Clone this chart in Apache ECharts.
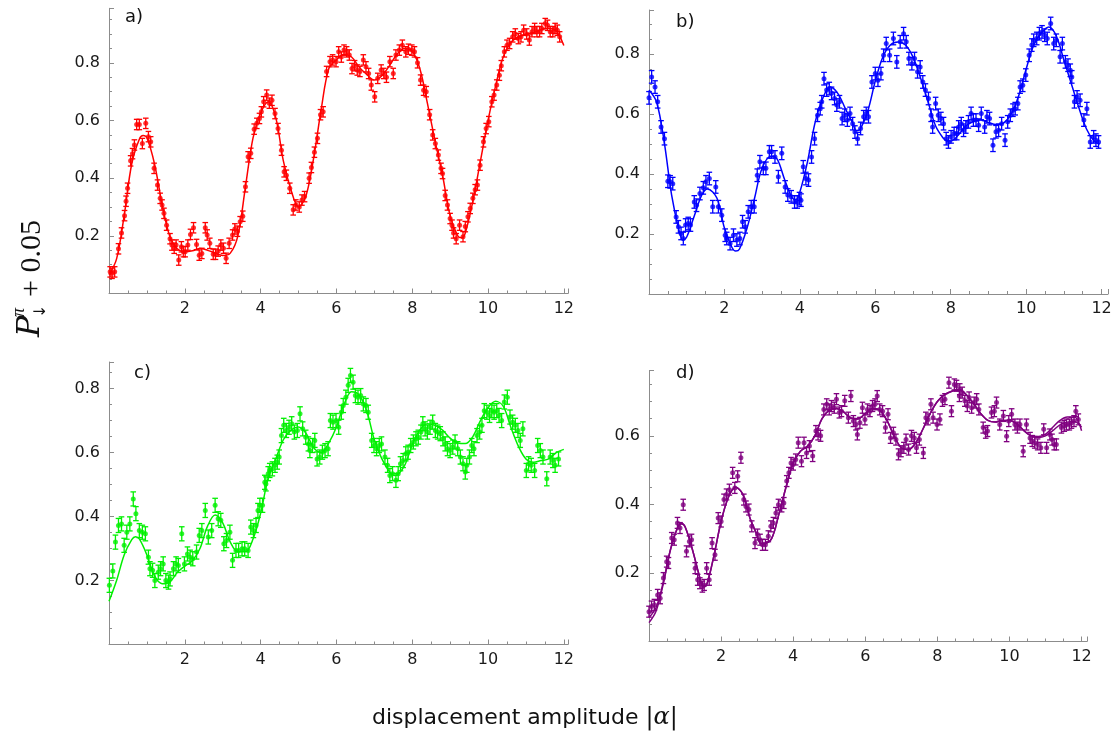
<!DOCTYPE html>
<html>
<head>
<meta charset="utf-8">
<script src="https://cdn.jsdelivr.net/npm/echarts@6/dist/echarts.min.js"></script>
<style>
html,body{margin:0;padding:0;background:#fff;}
#chart{width:1115px;height:734px;}
</style>
</head>
<body>
<div id="chart"></div>
<script>
// ---------------- data ----------------
const X_TICKS = [2, 4, 6, 8, 10, 12];
const Y_TICKS = [0.2, 0.4, 0.6, 0.8];
const PANEL_LABELS = ['a)', 'b)', 'c)', 'd)'];

const ERR_A = 0.018, ERR_B = 0.021, ERR_C = 0.022, ERR_D = 0.016;

const dataA = [[0.03,0.075],[0.08,0.07],[0.15,0.075],[0.25,0.155],[0.33,0.21],[0.41,0.27],[0.45,0.32],[0.49,0.365],[0.57,0.46],[0.62,0.485],[0.67,0.515],[0.73,0.586],[0.80,0.586],[0.88,0.52],[0.97,0.59],[1.04,0.544],[1.10,0.526],[1.19,0.434],[1.28,0.376],[1.35,0.33],[1.40,0.307],[1.45,0.278],[1.52,0.237],[1.61,0.19],[1.66,0.168],[1.72,0.157],[1.77,0.168],[1.84,0.116],[1.91,0.162],[1.96,0.145],[2.01,0.145],[2.08,0.168],[2.15,0.205],[2.23,0.228],[2.31,0.17],[2.38,0.133],[2.45,0.139],[2.54,0.228],[2.59,0.203],[2.66,0.174],[2.75,0.136],[2.81,0.136],[2.88,0.147],[2.95,0.168],[3.02,0.157],[3.09,0.122],[3.17,0.174],[3.26,0.203],[3.32,0.224],[3.39,0.216],[3.46,0.249],[3.53,0.268],[3.60,0.37],[3.67,0.474],[3.74,0.486],[3.83,0.57],[3.90,0.59],[3.97,0.607],[4.02,0.63],[4.08,0.665],[4.16,0.688],[4.23,0.66],[4.30,0.67],[4.38,0.624],[4.46,0.572],[4.55,0.497],[4.62,0.422],[4.68,0.41],[4.77,0.365],[4.86,0.29],[4.93,0.307],[5.02,0.30],[5.09,0.324],[5.16,0.336],[5.28,0.40],[5.34,0.437],[5.42,0.49],[5.50,0.538],[5.58,0.62],[5.65,0.63],[5.74,0.77],[5.83,0.804],[5.90,0.81],[5.99,0.804],[6.06,0.838],[6.13,0.82],[6.20,0.844],[6.27,0.838],[6.34,0.827],[6.41,0.78],[6.48,0.79],[6.55,0.775],[6.62,0.77],[6.71,0.81],[6.78,0.786],[6.85,0.763],[6.92,0.723],[7.01,0.682],[7.09,0.746],[7.18,0.775],[7.25,0.763],[7.32,0.75],[7.41,0.804],[7.50,0.763],[7.57,0.827],[7.66,0.844],[7.74,0.861],[7.83,0.838],[7.90,0.847],[7.99,0.844],[8.06,0.838],[8.14,0.80],[8.22,0.74],[8.30,0.705],[8.37,0.70],[8.46,0.62],[8.54,0.55],[8.61,0.52],[8.69,0.48],[8.76,0.434],[8.80,0.416],[8.87,0.34],[8.93,0.307],[9.0,0.26],[9.05,0.237],[9.09,0.21],[9.16,0.19],[9.25,0.237],[9.34,0.197],[9.40,0.232],[9.47,0.266],[9.53,0.295],[9.60,0.33],[9.66,0.36],[9.72,0.376],[9.79,0.445],[9.88,0.526],[9.95,0.572],[10.02,0.596],[10.10,0.665],[10.16,0.688],[10.23,0.723],[10.30,0.757],[10.35,0.79],[10.43,0.838],[10.50,0.861],[10.57,0.867],[10.65,0.89],[10.72,0.90],[10.80,0.884],[10.87,0.89],[10.94,0.913],[11.02,0.90],[11.09,0.879],[11.16,0.908],[11.23,0.919],[11.29,0.908],[11.36,0.908],[11.42,0.919],[11.51,0.936],[11.57,0.93],[11.64,0.908],[11.71,0.908],[11.77,0.919],[11.83,0.913],[11.89,0.89]];
const fitA = [[0,0.065],[0.2,0.12],[0.4,0.27],[0.6,0.45],[0.8,0.535],[0.9,0.548],[1.0,0.54],[1.2,0.45],[1.4,0.31],[1.6,0.2],[1.8,0.155],[2.0,0.145],[2.2,0.148],[2.4,0.156],[2.6,0.15],[2.8,0.14],[3.0,0.132],[3.2,0.14],[3.4,0.2],[3.6,0.37],[3.8,0.54],[4.0,0.625],[4.2,0.665],[4.4,0.61],[4.6,0.46],[4.8,0.36],[5.0,0.30],[5.2,0.34],[5.4,0.47],[5.6,0.64],[5.8,0.78],[6.0,0.81],[6.2,0.83],[6.4,0.82],[6.6,0.785],[6.8,0.76],[7.0,0.74],[7.2,0.755],[7.4,0.79],[7.6,0.83],[7.8,0.85],[8.0,0.84],[8.2,0.78],[8.4,0.66],[8.6,0.53],[8.8,0.41],[9.0,0.27],[9.2,0.2],[9.3,0.193],[9.4,0.21],[9.6,0.32],[9.8,0.46],[10.0,0.6],[10.2,0.72],[10.4,0.82],[10.6,0.87],[10.8,0.89],[11.0,0.9],[11.2,0.905],[11.4,0.915],[11.6,0.92],[11.8,0.91],[12.0,0.86]];

const dataB = [[0.0,0.654],[0.07,0.724],[0.16,0.69],[0.23,0.641],[0.32,0.557],[0.41,0.518],[0.50,0.376],[0.56,0.374],[0.63,0.368],[0.72,0.257],[0.78,0.224],[0.85,0.202],[0.91,0.185],[0.97,0.23],[1.04,0.235],[1.10,0.23],[1.20,0.307],[1.26,0.296],[1.35,0.335],[1.44,0.354],[1.51,0.374],[1.60,0.385],[1.69,0.291],[1.77,0.357],[1.84,0.291],[1.93,0.263],[2.02,0.196],[2.06,0.185],[2.15,0.168],[2.24,0.196],[2.33,0.18],[2.41,0.185],[2.48,0.241],[2.55,0.224],[2.63,0.274],[2.71,0.291],[2.79,0.291],[2.87,0.396],[2.94,0.441],[3.03,0.419],[3.10,0.419],[3.19,0.474],[3.25,0.474],[3.34,0.457],[3.43,0.391],[3.52,0.469],[3.61,0.357],[3.68,0.33],[3.77,0.324],[3.86,0.307],[3.93,0.307],[3.99,0.318],[4.03,0.313],[4.09,0.424],[4.16,0.385],[4.23,0.38],[4.31,0.457],[4.39,0.518],[4.47,0.596],[4.54,0.618],[4.58,0.641],[4.64,0.718],[4.71,0.68],[4.78,0.685],[4.84,0.669],[4.92,0.652],[4.98,0.63],[5.05,0.641],[5.12,0.585],[5.19,0.596],[5.26,0.58],[5.33,0.602],[5.40,0.568],[5.46,0.54],[5.53,0.518],[5.61,0.552],[5.69,0.591],[5.76,0.602],[5.82,0.591],[5.91,0.707],[6.0,0.735],[6.07,0.713],[6.15,0.735],[6.22,0.796],[6.29,0.835],[6.38,0.796],[6.48,0.852],[6.57,0.774],[6.66,0.841],[6.75,0.868],[6.82,0.841],[6.89,0.785],[6.97,0.768],[7.04,0.785],[7.12,0.741],[7.19,0.757],[7.26,0.707],[7.33,0.68],[7.41,0.652],[7.48,0.596],[7.52,0.557],[7.60,0.635],[7.67,0.596],[7.74,0.585],[7.81,0.568],[7.88,0.518],[7.94,0.507],[8.01,0.524],[8.09,0.535],[8.16,0.535],[8.21,0.557],[8.28,0.568],[8.34,0.546],[8.40,0.557],[8.47,0.574],[8.54,0.602],[8.60,0.58],[8.67,0.58],[8.74,0.563],[8.81,0.602],[8.90,0.557],[8.96,0.591],[9.03,0.585],[9.12,0.496],[9.20,0.541],[9.27,0.546],[9.35,0.568],[9.44,0.513],[9.51,0.574],[9.58,0.596],[9.65,0.613],[9.71,0.618],[9.78,0.635],[9.84,0.69],[9.91,0.696],[9.99,0.73],[10.08,0.796],[10.15,0.83],[10.20,0.846],[10.28,0.852],[10.35,0.868],[10.42,0.874],[10.49,0.863],[10.56,0.852],[10.65,0.902],[10.73,0.835],[10.80,0.846],[10.90,0.791],[10.96,0.835],[11.04,0.774],[11.11,0.763],[11.17,0.746],[11.21,0.724],[11.28,0.641],[11.35,0.657],[11.43,0.646],[11.53,0.58],[11.61,0.618],[11.70,0.507],[11.79,0.524],[11.85,0.513],[11.92,0.507]];
const fitB = [[0,0.68],[0.2,0.64],[0.4,0.51],[0.6,0.33],[0.8,0.21],[0.9,0.18],[1.0,0.19],[1.2,0.26],[1.4,0.33],[1.55,0.35],[1.8,0.32],[2.0,0.22],[2.2,0.155],[2.3,0.143],[2.4,0.15],[2.6,0.22],[2.8,0.32],[3.0,0.42],[3.25,0.46],[3.4,0.45],[3.6,0.38],[3.8,0.32],[3.9,0.315],[4.0,0.34],[4.2,0.44],[4.4,0.57],[4.6,0.65],[4.8,0.69],[5.0,0.67],[5.2,0.62],[5.4,0.57],[5.5,0.545],[5.6,0.55],[5.8,0.61],[6.0,0.71],[6.2,0.79],[6.4,0.83],[6.6,0.84],[6.8,0.83],[7.0,0.79],[7.2,0.72],[7.4,0.64],[7.6,0.56],[7.8,0.52],[7.9,0.51],[8.0,0.51],[8.2,0.53],[8.4,0.56],[8.6,0.575],[8.8,0.58],[9.0,0.572],[9.2,0.565],[9.4,0.57],[9.6,0.6],[9.8,0.66],[10.0,0.75],[10.2,0.83],[10.4,0.87],[10.6,0.89],[10.8,0.86],[11.0,0.78],[11.2,0.7],[11.4,0.62],[11.6,0.55],[11.8,0.51],[11.95,0.5]];

const dataC = [[0.01,0.185],[0.10,0.23],[0.17,0.32],[0.25,0.372],[0.33,0.377],[0.40,0.31],[0.47,0.351],[0.55,0.377],[0.64,0.455],[0.71,0.409],[0.80,0.356],[0.88,0.351],[0.96,0.346],[1.04,0.273],[1.08,0.237],[1.15,0.232],[1.21,0.2],[1.30,0.226],[1.36,0.237],[1.43,0.252],[1.50,0.2],[1.57,0.195],[1.61,0.205],[1.70,0.237],[1.77,0.252],[1.83,0.247],[1.92,0.346],[1.99,0.252],[2.07,0.283],[2.14,0.273],[2.21,0.268],[2.31,0.289],[2.38,0.341],[2.45,0.356],[2.54,0.419],[2.62,0.336],[2.71,0.356],[2.80,0.435],[2.88,0.393],[2.95,0.388],[3.03,0.315],[3.10,0.325],[3.19,0.351],[3.26,0.263],[3.35,0.294],[3.42,0.294],[3.51,0.299],[3.58,0.299],[3.67,0.294],[3.74,0.367],[3.81,0.356],[3.88,0.372],[3.93,0.419],[3.98,0.435],[4.05,0.435],[4.11,0.507],[4.14,0.502],[4.20,0.534],[4.24,0.544],[4.31,0.549],[4.38,0.56],[4.44,0.57],[4.49,0.586],[4.55,0.653],[4.61,0.685],[4.68,0.669],[4.75,0.679],[4.82,0.69],[4.89,0.664],[4.97,0.669],[5.04,0.721],[5.11,0.674],[5.19,0.648],[5.26,0.627],[5.30,0.606],[5.37,0.622],[5.43,0.638],[5.49,0.58],[5.56,0.586],[5.63,0.601],[5.70,0.606],[5.78,0.612],[5.84,0.7],[5.91,0.695],[5.99,0.7],[6.06,0.679],[6.13,0.726],[6.18,0.747],[6.25,0.773],[6.31,0.81],[6.37,0.841],[6.44,0.82],[6.50,0.778],[6.57,0.773],[6.64,0.778],[6.71,0.752],[6.78,0.747],[6.84,0.726],[6.93,0.638],[6.99,0.622],[7.06,0.612],[7.13,0.622],[7.19,0.627],[7.28,0.586],[7.35,0.56],[7.41,0.528],[7.48,0.534],[7.57,0.513],[7.63,0.534],[7.69,0.565],[7.76,0.575],[7.83,0.596],[7.89,0.601],[7.96,0.622],[8.03,0.633],[8.10,0.643],[8.16,0.648],[8.23,0.664],[8.28,0.69],[8.34,0.674],[8.40,0.664],[8.47,0.679],[8.54,0.695],[8.61,0.669],[8.67,0.664],[8.74,0.659],[8.81,0.643],[8.87,0.627],[8.93,0.612],[9.0,0.606],[9.07,0.617],[9.13,0.633],[9.20,0.612],[9.27,0.586],[9.34,0.565],[9.40,0.539],[9.44,0.56],[9.51,0.586],[9.57,0.622],[9.63,0.612],[9.71,0.653],[9.78,0.664],[9.84,0.685],[9.90,0.731],[9.97,0.726],[10.04,0.716],[10.10,0.731],[10.16,0.726],[10.23,0.731],[10.29,0.716],[10.36,0.7],[10.43,0.758],[10.51,0.773],[10.58,0.711],[10.65,0.695],[10.72,0.685],[10.79,0.669],[10.85,0.638],[10.92,0.674],[11.01,0.544],[11.07,0.565],[11.14,0.56],[11.23,0.544],[11.31,0.622],[11.38,0.606],[11.45,0.586],[11.55,0.518],[11.64,0.586],[11.71,0.575],[11.77,0.56],[11.86,0.58]];
const fitC = [[0,0.135],[0.2,0.2],[0.4,0.28],[0.6,0.328],[0.7,0.337],[0.8,0.33],[1.0,0.28],[1.2,0.215],[1.4,0.19],[1.6,0.195],[1.8,0.225],[2.0,0.245],[2.2,0.262],[2.4,0.3],[2.6,0.37],[2.8,0.405],[3.0,0.38],[3.2,0.32],[3.4,0.29],[3.6,0.29],[3.8,0.33],[4.0,0.41],[4.2,0.52],[4.4,0.58],[4.6,0.64],[4.8,0.67],[5.0,0.68],[5.2,0.66],[5.4,0.615],[5.6,0.6],[5.8,0.63],[6.0,0.68],[6.2,0.75],[6.4,0.79],[6.6,0.78],[6.8,0.73],[7.0,0.64],[7.2,0.58],[7.4,0.54],[7.55,0.528],[7.8,0.56],[8.0,0.625],[8.2,0.67],[8.4,0.69],[8.6,0.685],[8.8,0.67],[9.0,0.645],[9.2,0.63],[9.4,0.628],[9.6,0.65],[9.8,0.7],[10.0,0.74],[10.2,0.76],[10.4,0.745],[10.6,0.68],[10.8,0.62],[11.0,0.58],[11.2,0.57],[11.4,0.575],[11.6,0.58],[11.8,0.6],[12.0,0.61]];

const dataD = [[0.0,0.087],[0.07,0.102],[0.15,0.107],[0.24,0.136],[0.31,0.126],[0.40,0.185],[0.49,0.233],[0.54,0.229],[0.63,0.302],[0.70,0.297],[0.79,0.346],[0.86,0.331],[0.95,0.399],[1.04,0.263],[1.12,0.292],[1.18,0.297],[1.28,0.214],[1.35,0.18],[1.41,0.17],[1.48,0.16],[1.53,0.165],[1.60,0.214],[1.67,0.18],[1.75,0.287],[1.83,0.253],[1.92,0.36],[2.00,0.35],[2.08,0.414],[2.15,0.429],[2.23,0.443],[2.32,0.492],[2.38,0.448],[2.46,0.482],[2.55,0.536],[2.63,0.414],[2.69,0.394],[2.77,0.385],[2.85,0.336],[2.94,0.287],[3.01,0.312],[3.08,0.297],[3.15,0.282],[3.23,0.282],[3.31,0.307],[3.38,0.336],[3.45,0.346],[3.52,0.375],[3.59,0.399],[3.68,0.394],[3.74,0.404],[3.82,0.468],[3.88,0.492],[3.94,0.521],[4.00,0.516],[4.07,0.531],[4.14,0.58],[4.23,0.526],[4.30,0.58],[4.37,0.55],[4.45,0.57],[4.54,0.541],[4.63,0.614],[4.69,0.604],[4.76,0.6],[4.85,0.677],[4.93,0.692],[5.00,0.677],[5.06,0.687],[5.14,0.682],[5.20,0.707],[5.28,0.668],[5.34,0.672],[5.43,0.702],[5.53,0.653],[5.60,0.716],[5.67,0.643],[5.74,0.633],[5.78,0.604],[5.85,0.638],[5.92,0.682],[5.99,0.648],[6.06,0.677],[6.13,0.672],[6.20,0.687],[6.27,0.692],[6.33,0.716],[6.40,0.677],[6.48,0.672],[6.56,0.624],[6.63,0.663],[6.70,0.594],[6.78,0.609],[6.85,0.589],[6.92,0.546],[6.99,0.555],[7.07,0.565],[7.13,0.589],[7.20,0.56],[7.28,0.6],[7.36,0.594],[7.42,0.565],[7.50,0.589],[7.61,0.55],[7.68,0.653],[7.74,0.648],[7.82,0.692],[7.88,0.653],[7.99,0.633],[8.07,0.648],[8.14,0.702],[8.21,0.707],[8.32,0.755],[8.39,0.672],[8.47,0.75],[8.53,0.746],[8.61,0.716],[8.62,0.736],[8.69,0.726],[8.76,0.702],[8.83,0.687],[8.88,0.712],[8.95,0.682],[9.02,0.697],[9.09,0.707],[9.15,0.677],[9.27,0.624],[9.34,0.609],[9.39,0.614],[9.50,0.668],[9.58,0.672],[9.64,0.697],[9.73,0.633],[9.83,0.658],[9.92,0.599],[9.98,0.643],[10.06,0.663],[10.15,0.633],[10.22,0.624],[10.29,0.633],[10.38,0.555],[10.47,0.633],[10.57,0.594],[10.63,0.585],[10.70,0.58],[10.78,0.575],[10.87,0.565],[10.95,0.619],[11.03,0.565],[11.12,0.604],[11.18,0.589],[11.24,0.575],[11.30,0.575],[11.44,0.624],[11.52,0.629],[11.58,0.633],[11.66,0.633],[11.72,0.638],[11.79,0.643],[11.84,0.672],[11.91,0.648]];
const fitD = [[0,0.055],[0.2,0.09],[0.4,0.17],[0.6,0.27],[0.8,0.335],[0.9,0.345],[1.0,0.335],[1.2,0.27],[1.4,0.19],[1.5,0.16],[1.6,0.165],[1.8,0.25],[2.0,0.35],[2.2,0.42],[2.4,0.45],[2.6,0.43],[2.8,0.36],[3.0,0.31],[3.1,0.285],[3.2,0.285],[3.4,0.3],[3.6,0.37],[3.8,0.45],[4.0,0.52],[4.2,0.555],[4.4,0.57],[4.6,0.6],[4.8,0.65],[5.0,0.675],[5.2,0.68],[5.4,0.67],[5.6,0.652],[5.8,0.65],[6.0,0.665],[6.2,0.68],[6.4,0.675],[6.6,0.645],[6.8,0.6],[7.0,0.565],[7.2,0.56],[7.4,0.58],[7.6,0.62],[7.8,0.665],[8.0,0.7],[8.2,0.72],[8.4,0.73],[8.6,0.735],[8.8,0.72],[9.0,0.695],[9.2,0.665],[9.4,0.645],[9.6,0.64],[9.8,0.645],[10.0,0.645],[10.2,0.635],[10.4,0.615],[10.6,0.6],[10.8,0.598],[11.0,0.605],[11.2,0.625],[11.4,0.645],[11.6,0.655],[11.8,0.655],[12.0,0.615]];
const fitD2 = [[0,0.07],[0.2,0.1],[0.4,0.175],[0.6,0.27],[0.8,0.333],[0.9,0.343],[1.0,0.335],[1.2,0.27],[1.4,0.19],[1.5,0.162],[1.6,0.167],[1.8,0.25],[2.0,0.35],[2.2,0.42],[2.4,0.45],[2.6,0.43],[2.8,0.36],[3.0,0.31],[3.1,0.287],[3.2,0.287],[3.4,0.3],[3.6,0.37],[3.8,0.45],[4.0,0.52],[4.2,0.555],[4.4,0.57],[4.6,0.6],[4.8,0.65],[5.0,0.675],[5.2,0.68],[5.4,0.67],[5.6,0.652],[5.8,0.65],[6.0,0.665],[6.2,0.68],[6.4,0.675],[6.6,0.645],[6.8,0.6],[7.0,0.565],[7.2,0.56],[7.4,0.58],[7.6,0.62],[7.8,0.665],[8.0,0.7],[8.2,0.72],[8.4,0.73],[8.6,0.735],[8.8,0.72],[9.0,0.695],[9.2,0.665],[9.4,0.645],[9.6,0.64],[9.8,0.645],[10.0,0.645],[10.2,0.635],[10.4,0.615],[10.6,0.6],[10.8,0.595],[11.0,0.6],[11.2,0.615],[11.4,0.632],[11.6,0.64],[11.8,0.642],[12.0,0.625]];

// ---------------- layout ----------------
const panels = [
  {data: dataA, fits: [fitA], err: ERR_A, color: '#ff0000', grid: {left:109, top:8.3, width:459, height:285.2}, xmax:12.11, ymax:0.989, label: PANEL_LABELS[0], lx:135, ly:20},
  {data: dataB, fits: [fitB], err: ERR_B, color: '#0000ff', grid: {left:649, top:10, width:459, height:284}, xmax:12.17, ymax:0.947, label: PANEL_LABELS[1], lx:686, ly:25},
  {data: dataC, fits: [fitC], err: ERR_C, color: '#00f000', grid: {left:109, top:362, width:459, height:282.5}, xmax:12.11, ymax:0.883, label: PANEL_LABELS[2], lx:144, ly:376},
  {data: dataD, fits: [fitD, fitD2], err: ERR_D, color: '#800080', grid: {left:649, top:370.7, width:438, height:270.8}, xmax:12.15, ymax:0.79, label: PANEL_LABELS[3], lx:686, ly:376}
];

const AXIS_COLOR = '#8c8c8c';
const LABEL_COLOR = '#1a1a1a';
const FONT = 'DejaVu Sans';

function fmt(list) {
  return function (v) {
    for (const t of list) if (Math.abs(v - t) < 1e-6) return String(t);
    return '';
  };
}

const grids = [], xAxes = [], yAxes = [], series = [], graphics = [];
panels.forEach((p, i) => {
  grids.push(Object.assign({}, p.grid));
  xAxes.push({
    gridIndex: i, type: 'value', min: 0, max: p.xmax, interval: 2,
    axisLine: {show: true, onZero: false, lineStyle: {color: AXIS_COLOR, width: 1}},
    axisTick: {show: true, inside: true, length: 5, lineStyle: {color: AXIS_COLOR}},
    minorTick: {show: true, splitNumber: 4, length: 3, lineStyle: {color: AXIS_COLOR}},
    axisLabel: {formatter: fmt(X_TICKS), color: LABEL_COLOR, fontSize: 16, fontFamily: FONT, margin: 7, showMaxLabel: false},
    splitLine: {show: false}
  });
  yAxes.push({
    gridIndex: i, type: 'value', min: 0, max: p.ymax, interval: 0.2,
    axisLine: {show: true, onZero: false, lineStyle: {color: AXIS_COLOR, width: 1}},
    axisTick: {show: true, inside: true, length: 5, lineStyle: {color: AXIS_COLOR}},
    minorTick: {show: true, splitNumber: 4, length: 3, lineStyle: {color: AXIS_COLOR}},
    axisLabel: {formatter: fmt(Y_TICKS), color: LABEL_COLOR, fontSize: 16, fontFamily: FONT, margin: 9, showMaxLabel: false},
    splitLine: {show: false}
  });
  const col = p.color, err = p.err;
  series.push({
    type: 'custom', xAxisIndex: i, yAxisIndex: i, z: 3,
    data: p.data.map(d => [d[0], d[1], err]),
    renderItem: function (params, api) {
      const x = api.value(0), y = api.value(1), e = api.value(2);
      const t = api.coord([x, y + e]);
      const b = api.coord([x, y - e]);
      const cw = 2.8;
      const st = {stroke: col, lineWidth: 1.3, fill: null};
      return {type: 'group', children: [
        {type: 'line', shape: {x1: t[0], y1: t[1], x2: b[0], y2: b[1]}, style: st},
        {type: 'line', shape: {x1: t[0] - cw, y1: t[1], x2: t[0] + cw, y2: t[1]}, style: st},
        {type: 'line', shape: {x1: b[0] - cw, y1: b[1], x2: b[0] + cw, y2: b[1]}, style: st}
      ]};
    },
    silent: true, animation: false
  });
  series.push({
    type: 'scatter', xAxisIndex: i, yAxisIndex: i, z: 4,
    data: p.data, symbol: 'circle', symbolSize: 5,
    itemStyle: {color: col}, silent: true, animation: false
  });
  p.fits.forEach(f => {
    series.push({
      type: 'line', xAxisIndex: i, yAxisIndex: i, z: 5,
      data: f, smooth: 0.35, showSymbol: false, symbol: 'none',
      lineStyle: {color: col, width: 1.5}, silent: true, animation: false
    });
  });
  graphics.push({
    type: 'text', left: p.lx - 10, top: p.ly - 12,
    style: {text: p.label, font: '18px "DejaVu Sans"', fill: '#111'}
  });
});

// x-axis title
graphics.push({
  type: 'text', left: 372, top: 706,
  style: {
    text: '{a|displacement amplitude }{b||α|}',
    rich: {
      a: {fontFamily: FONT, fontSize: 22, fill: '#111', color: '#111'},
      b: {fontFamily: 'DejaVu Serif', fontStyle: 'italic', fontSize: 24, fill: '#111', color: '#111'}
    }
  }
});

// y-axis title (rotated)
graphics.push({
  type: 'group', x: 31, y: 337, rotation: Math.PI / 2,
  children: [
    {type: 'text', x: 0, y: 0, style: {text: 'P', font: 'italic 32px "DejaVu Serif"', fill: '#111', textAlign: 'left', textVerticalAlign: 'middle', align: 'left', verticalAlign: 'middle'}},
    {type: 'text', x: 19, y: 10, style: {text: '↓', font: '16px "DejaVu Sans"', fill: '#111', textAlign: 'left', textVerticalAlign: 'middle', align: 'left', verticalAlign: 'middle'}},
    {type: 'text', x: 20, y: -12, style: {text: 'π', font: 'italic 18px "Liberation Serif"', fill: '#111', textAlign: 'left', textVerticalAlign: 'middle', align: 'left', verticalAlign: 'middle'}},
    {type: 'text', x: 40, y: 1, style: {text: '+ 0.05', font: '30px "Liberation Serif"', fill: '#111', textAlign: 'left', textVerticalAlign: 'middle', align: 'left', verticalAlign: 'middle'}}
  ]
});

const chart = echarts.init(document.getElementById('chart'), null, {renderer: 'canvas'});
chart.setOption({
  animation: false,
  backgroundColor: '#ffffff',
  grid: grids, xAxis: xAxes, yAxis: yAxes, series: series, graphic: graphics
});
</script>
</body>
</html>
